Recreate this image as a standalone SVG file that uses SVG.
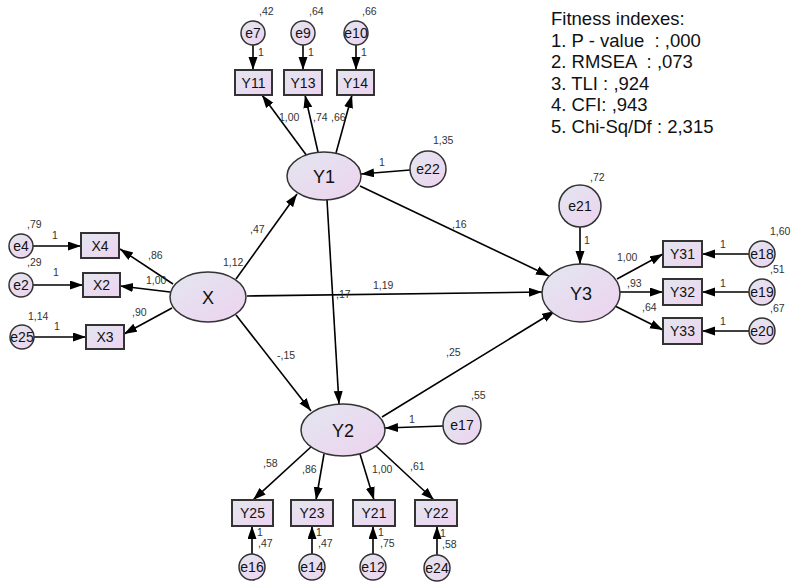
<svg xmlns="http://www.w3.org/2000/svg" width="791" height="582" viewBox="0 0 791 582">
<defs>
<linearGradient id="g" x1="0" y1="0" x2="1" y2="1">
<stop offset="0" stop-color="#e3e6ef"/>
<stop offset="1" stop-color="#edd3f0"/>
</linearGradient>
<marker id="ah" markerUnits="userSpaceOnUse" markerWidth="14" markerHeight="10" refX="13" refY="4.5" orient="auto">
<path d="M0,0 L13,4.5 L0,9 z" fill="#000"/>
</marker>
<style>
.n{fill:url(#g);stroke:#333;stroke-width:1.5}
.r{fill:url(#g);stroke:#333;stroke-width:2}
.t{font-family:"Liberation Sans",Arial,sans-serif;fill:#111;text-anchor:middle}
.tl{font-size:18px}
.tr{font-size:14px}
.te{font-size:14px}
.s{font-family:"Liberation Sans",Arial,sans-serif;font-size:10.5px;fill:#333}
.c line{stroke:#000;stroke-width:1.6;marker-end:url(#ah)}
.f{font-family:"Liberation Sans",Arial,sans-serif;font-size:18.5px;fill:#111}
</style>
</defs>
<rect width="791" height="582" fill="#fff"/>

<g class="c" id="connectors">
<line x1="253" y1="45" x2="253" y2="70"/>
<line x1="303" y1="45" x2="303" y2="70"/>
<line x1="356" y1="45" x2="356" y2="70"/>
<line x1="307" y1="156" x2="262" y2="95"/>
<line x1="318" y1="152" x2="305" y2="95"/>
<line x1="336" y1="153" x2="352" y2="95"/>
<line x1="33" y1="246" x2="81" y2="246"/>
<line x1="33" y1="285" x2="83" y2="285"/>
<line x1="34" y1="337" x2="86" y2="337"/>
<line x1="173" y1="284" x2="120" y2="249"/>
<line x1="170" y1="292" x2="120" y2="286"/>
<line x1="172" y1="308" x2="124" y2="334"/>
<line x1="236" y1="279" x2="297" y2="194"/>
<line x1="247" y1="296" x2="542" y2="292"/>
<line x1="236" y1="315" x2="311" y2="411"/>
<line x1="360" y1="186" x2="549" y2="276"/>
<line x1="327" y1="200" x2="339" y2="404"/>
<line x1="382" y1="417" x2="555" y2="311"/>
<line x1="410" y1="170" x2="361" y2="174"/>
<line x1="443" y1="426" x2="385" y2="428"/>
<line x1="580" y1="227" x2="580" y2="264"/>
<line x1="617" y1="279" x2="663" y2="254"/>
<line x1="620" y1="292" x2="663" y2="292"/>
<line x1="615" y1="306" x2="663" y2="330"/>
<line x1="749" y1="254" x2="702" y2="254"/>
<line x1="749" y1="292" x2="702" y2="292"/>
<line x1="749" y1="331" x2="702" y2="331"/>
<line x1="312" y1="446" x2="253" y2="500"/>
<line x1="324" y1="454" x2="316" y2="500"/>
<line x1="360" y1="454" x2="374" y2="500"/>
<line x1="376" y1="446" x2="434" y2="500"/>
<line x1="252" y1="554" x2="252" y2="526"/>
<line x1="312" y1="554" x2="312" y2="526"/>
<line x1="373" y1="554" x2="373" y2="526"/>
<line x1="437" y1="555" x2="437" y2="526"/>
</g>

<g id="X"><ellipse class="n" cx="208" cy="297" rx="38" ry="25"/><text class="t tl" x="208" y="303.5">X</text></g>
<g id="Y1"><ellipse class="n" cx="324" cy="176" rx="37" ry="24"/><text class="t tl" x="324" y="182.5">Y1</text></g>
<g id="Y2"><ellipse class="n" cx="343" cy="430" rx="42" ry="26"/><text class="t tl" x="343" y="436.5">Y2</text></g>
<g id="Y3"><ellipse class="n" cx="581" cy="293" rx="39" ry="29"/><text class="t tl" x="581" y="299.5">Y3</text></g>

<g id="Y11"><rect class="r" x="235" y="70" width="37" height="25"/><text class="t tr" x="253.5" y="87.5">Y11</text></g>
<g id="Y13"><rect class="r" x="284" y="70" width="38" height="25"/><text class="t tr" x="303" y="87.5">Y13</text></g>
<g id="Y14"><rect class="r" x="337" y="70" width="37" height="25"/><text class="t tr" x="355.5" y="87.5">Y14</text></g>
<g id="X4"><rect class="r" x="81" y="233" width="38" height="25"/><text class="t tr" x="100" y="250.5">X4</text></g>
<g id="X2"><rect class="r" x="83" y="273" width="37" height="24"/><text class="t tr" x="101.5" y="290">X2</text></g>
<g id="X3"><rect class="r" x="86" y="325" width="38" height="24"/><text class="t tr" x="105" y="342">X3</text></g>
<g id="Y31"><rect class="r" x="663" y="241" width="39" height="26"/><text class="t tr" x="682.5" y="259">Y31</text></g>
<g id="Y32"><rect class="r" x="663" y="279" width="39" height="26"/><text class="t tr" x="682.5" y="297">Y32</text></g>
<g id="Y33"><rect class="r" x="663" y="318" width="39" height="26"/><text class="t tr" x="682.5" y="336">Y33</text></g>
<g id="Y25"><rect class="r" x="232" y="500" width="41" height="26"/><text class="t tr" x="252.5" y="518">Y25</text></g>
<g id="Y23"><rect class="r" x="291" y="500" width="42" height="26"/><text class="t tr" x="312" y="518">Y23</text></g>
<g id="Y21"><rect class="r" x="353" y="500" width="42" height="26"/><text class="t tr" x="374" y="518">Y21</text></g>
<g id="Y22"><rect class="r" x="415" y="500" width="42" height="26"/><text class="t tr" x="436" y="518">Y22</text></g>

<g id="e7"><circle class="n" cx="253" cy="33" r="12"/><text class="t te" x="253" y="38">e7</text></g>
<g id="e9"><circle class="n" cx="303" cy="33" r="12"/><text class="t te" x="303" y="38">e9</text></g>
<g id="e10"><circle class="n" cx="356" cy="33" r="12"/><text class="t te" x="356" y="38">e10</text></g>
<g id="e4"><circle class="n" cx="21" cy="246" r="12"/><text class="t te" x="21" y="251">e4</text></g>
<g id="e2"><circle class="n" cx="21" cy="285" r="12"/><text class="t te" x="21" y="290">e2</text></g>
<g id="e25"><circle class="n" cx="22" cy="337" r="12"/><text class="t te" x="22" y="342">e25</text></g>
<g id="e22"><circle class="n" cx="428" cy="169" r="18"/><text class="t te" x="428" y="174">e22</text></g>
<g id="e17"><circle class="n" cx="462" cy="425" r="19"/><text class="t te" x="462" y="430">e17</text></g>
<g id="e21"><circle class="n" cx="580" cy="206" r="21"/><text class="t te" x="580" y="211">e21</text></g>
<g id="e18"><circle class="n" cx="762" cy="254" r="13"/><text class="t te" x="762" y="259">e18</text></g>
<g id="e19"><circle class="n" cx="762" cy="292" r="13"/><text class="t te" x="762" y="297">e19</text></g>
<g id="e20"><circle class="n" cx="762" cy="331" r="13"/><text class="t te" x="762" y="336">e20</text></g>
<g id="e16"><circle class="n" cx="252" cy="567" r="13"/><text class="t te" x="252" y="572">e16</text></g>
<g id="e14"><circle class="n" cx="312" cy="567" r="13"/><text class="t te" x="312" y="572">e14</text></g>
<g id="e12"><circle class="n" cx="373" cy="567" r="13"/><text class="t te" x="373" y="572">e12</text></g>
<g id="e24"><circle class="n" cx="437" cy="568" r="13"/><text class="t te" x="437" y="573">e24</text></g>

<g id="labels">
<text class="s" x="259" y="15">,42</text>
<text class="s" x="309" y="15">,64</text>
<text class="s" x="362" y="15">,66</text>
<text class="s" x="258" y="56">1</text>
<text class="s" x="308" y="56">1</text>
<text class="s" x="361" y="56">1</text>
<text class="s" x="279" y="121">1,00</text>
<text class="s" x="313" y="121">,74</text>
<text class="s" x="331" y="121">,66</text>
<text class="s" x="27" y="228">,79</text>
<text class="s" x="52" y="239">1</text>
<text class="s" x="27" y="266">,29</text>
<text class="s" x="53" y="276">1</text>
<text class="s" x="28" y="320">1,14</text>
<text class="s" x="54" y="330">1</text>
<text class="s" x="148" y="259">,86</text>
<text class="s" x="146" y="284">1,00</text>
<text class="s" x="132" y="316">,90</text>
<text class="s" x="223" y="266">1,12</text>
<text class="s" x="250" y="233">,47</text>
<text class="s" x="452" y="228">,16</text>
<text class="s" x="373" y="289">1,19</text>
<text class="s" x="336" y="298">,17</text>
<text class="s" x="379" y="166">1</text>
<text class="s" x="433" y="144">1,35</text>
<text class="s" x="277" y="359">-,15</text>
<text class="s" x="446" y="356">,25</text>
<text class="s" x="471" y="399">,55</text>
<text class="s" x="409" y="423">1</text>
<text class="s" x="590" y="181">,72</text>
<text class="s" x="584" y="244">1</text>
<text class="s" x="617" y="261">1,00</text>
<text class="s" x="627" y="287">,93</text>
<text class="s" x="642" y="311">,64</text>
<text class="s" x="720" y="248">1</text>
<text class="s" x="770" y="235">1,60</text>
<text class="s" x="770" y="273">,51</text>
<text class="s" x="720" y="287">1</text>
<text class="s" x="770" y="312">,67</text>
<text class="s" x="720" y="325">1</text>
<text class="s" x="263" y="467">,58</text>
<text class="s" x="302" y="473">,86</text>
<text class="s" x="372" y="473">1,00</text>
<text class="s" x="410" y="470">,61</text>
<text class="s" x="257" y="536">1</text>
<text class="s" x="258" y="547">,47</text>
<text class="s" x="316" y="536">1</text>
<text class="s" x="318" y="547">,47</text>
<text class="s" x="378" y="536">1</text>
<text class="s" x="380" y="547">,75</text>
<text class="s" x="440" y="537">1</text>
<text class="s" x="442" y="548">,58</text>
</g>

<g id="fitness">
<text class="f" x="551" y="25">Fitness indexes:</text>
<text class="f" x="551" y="46.5" xml:space="preserve">1. P - value  : ,000</text>
<text class="f" x="551" y="68" xml:space="preserve">2. RMSEA  : ,073</text>
<text class="f" x="551" y="89.5">3. TLI : ,924</text>
<text class="f" x="551" y="111">4. CFI: ,943</text>
<text class="f" x="551" y="132.5">5. Chi-Sq/Df : 2,315</text>
</g>
</svg>
